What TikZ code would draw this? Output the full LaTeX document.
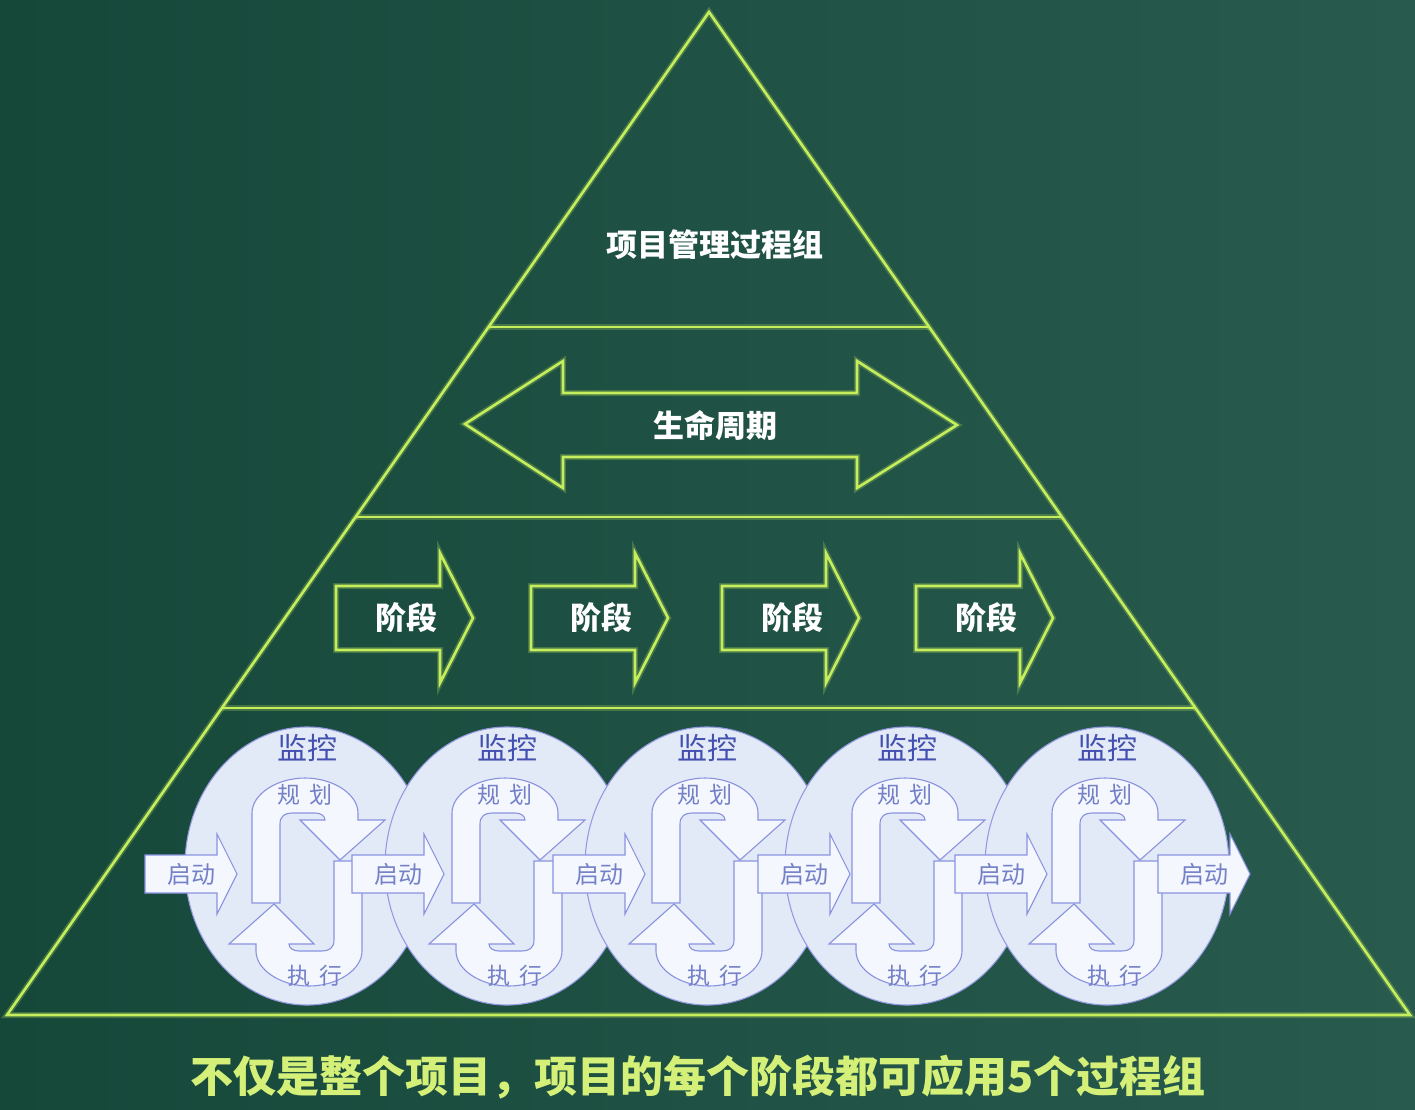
\documentclass[tikz,border=0pt]{standalone}
\usepackage{fontspec}
\newfontfamily\cjk{Noto Sans CJK SC}
\usetikzlibrary{calc,shapes.geometric}
\definecolor{bgdark}{HTML}{16483A}
\definecolor{bglight}{HTML}{285A4E}
\definecolor{lineclr}{HTML}{C4EE5C}
\definecolor{circfill}{HTML}{E3EAF7}
\definecolor{circdraw}{HTML}{949BE2}
\definecolor{loopfill}{HTML}{F4F7FD}
\definecolor{loopdraw}{HTML}{8A92E0}
\definecolor{txtdark}{HTML}{4450B0}
\definecolor{txtlight}{HTML}{7480C8}
\definecolor{bottomtxt}{HTML}{D4F078}
\tikzset{
  glowline/.style={draw=lineclr, line width=2.6pt, line join=miter,
    preaction={draw=lineclr, line width=6pt, opacity=0.25}},
  whitetxt/.style={text=white, font=\cjk\bfseries\fontsize{31pt}{31pt}\selectfont, inner sep=0pt},
  circ/.style={ellipse, draw=circdraw, fill=circfill, line width=1.1pt,
    minimum width=244pt, minimum height=278pt, inner sep=0pt},
  loopshape/.style={draw=loopdraw, fill=loopfill, line width=1.1pt, line join=miter},
  montxt/.style={text=txtdark, font=\cjk\fontsize{30pt}{30pt}\selectfont, inner sep=0pt},
  smalltxt/.style={text=txtlight, font=\cjk\fontsize{23pt}{23pt}\selectfont, inner sep=0pt},
  starttxt/.style={text=txtlight, font=\cjk\fontsize{24pt}{24pt}\selectfont, inner sep=0pt},
  halfloop/.pic={
    \path[loopshape] (-55,21) -- (-55,-69)
      .. controls (-55,-88) and (-30,-104) .. (-2,-104)
      .. controls (26,-104) and (51,-88) .. (51,-69)
      -- (51,-62) -- (78,-62) -- (33,-22) -- (-7,-62) -- (18,-62)
      .. controls (18,-66) and (14,-69) .. (8,-69)
      -- (-15,-69)
      .. controls (-22,-69) and (-27,-66) .. (-27,-58)
      -- (-27,21) -- cycle;
  },
  startarrow/.pic={
    \path[loopshape] (0,-19) -- (72,-19) -- (72,-40) -- (92,0) -- (72,40)
      -- (72,19) -- (0,19) -- cycle;
    \node[starttxt] (-t) at (46,0) {启动};
  },
  phasearrow/.pic={
    \path[glowline] (0,-32) -- (104,-32) -- (104,-65) -- (137,0) -- (104,65)
      -- (104,32) -- (0,32) -- cycle;
    \node[whitetxt] (-t) at (70,0) {阶段};
  },
}
\begin{document}
\begin{tikzpicture}[x=1pt,y=-1pt]
\useasboundingbox (0,0) rectangle (1415,1109);
\shade[left color=bgdark, right color=bglight] (0,0) rectangle (1415,1109);

% pyramid
\coordinate (apex) at (709,12);
\coordinate (bl) at (7,1015);
\coordinate (br) at (1410,1015);
\coordinate (l1) at ($(apex)!0.314!(bl)$);
\coordinate (r1) at ($(apex)!0.314!(br)$);
\coordinate (l2) at ($(apex)!0.5035!(bl)$);
\coordinate (r2) at ($(apex)!0.5035!(br)$);
\coordinate (l3) at ($(apex)!0.694!(bl)$);
\coordinate (r3) at ($(apex)!0.694!(br)$);
\path[glowline] (apex) -- (bl) -- (br) -- cycle;
\path[glowline] (l1) -- (r1);
\path[glowline] (l2) -- (r2);
\path[glowline] (l3) -- (r3);

% top level
\node[whitetxt] (pmg) at (715,245) {项目管理过程组};

% life cycle double arrow
\path[glowline] (465,424) -- (563,361) -- (563,393) -- (857,393) -- (857,361)
  -- (957,425) -- (857,488) -- (857,457) -- (563,457) -- (563,488) -- cycle;
\node[whitetxt] (lc) at (715,425) {生命周期};

% phases
\pic (ph1) at (336,618) {phasearrow};
\pic (ph2) at (531,618) {phasearrow};
\pic (ph3) at (722,618) {phasearrow};
\pic (ph4) at (916,618) {phasearrow};

% process group circles
\foreach \c [count=\i] in {307,507,707,907,1107} {
  \node[circ] (c\i) at (\c,866) {};
  \pic at (\c,882) {halfloop};
  \pic[rotate=180] at (\c,882) {halfloop};
  \node[montxt] (mon\i) at (\c,748) {监控};
  \node[smalltxt] (plan\i) at (\c-2,795) {规\hspace{9pt}划};
  \node[smalltxt] (exe\i) at (\c+8,976) {执\hspace{9pt}行};
}
\foreach \s [count=\i] in {145,352,553,758,955,1158} {
  \pic (st\i) at (\s,874) {startarrow};
}

% caption
\node[text=bottomtxt, font=\cjk\bfseries\fontsize{43pt}{43pt}\selectfont, inner sep=0pt]
  (cap) at (698,1077) {不仅是整个项目，项目的每个阶段都可应用5个过程组};
\end{tikzpicture}
\end{document}
